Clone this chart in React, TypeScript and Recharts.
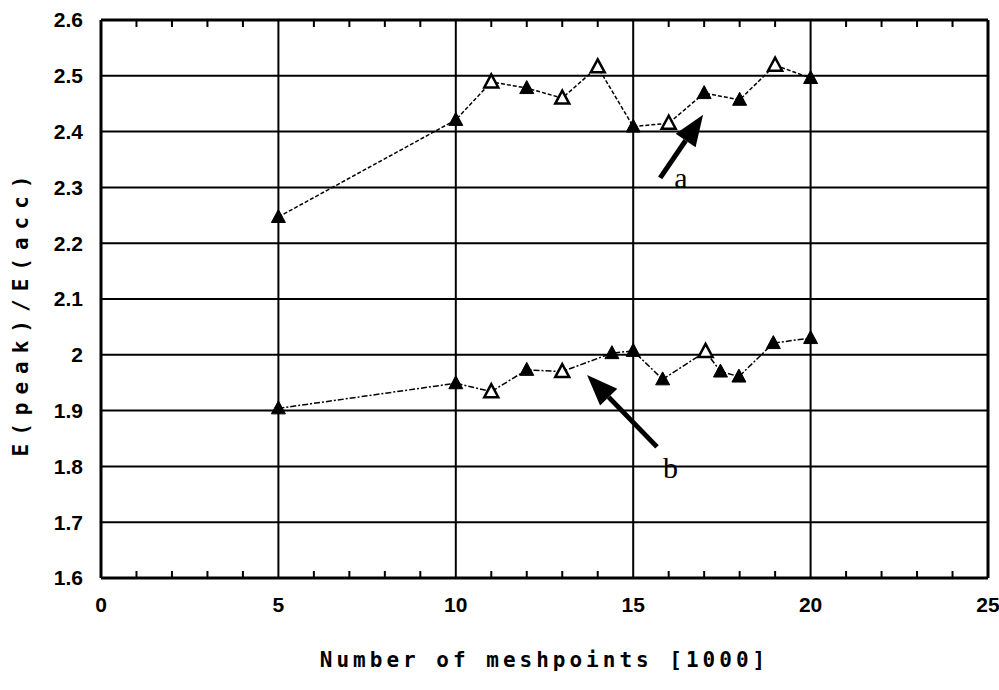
import { LineChart, Line, XAxis, YAxis, CartesianGrid, ReferenceLine } from 'recharts';

// curve a (upper) and curve b (lower)
const meshA = [5, 10, 11, 12, 13, 14, 15, 16, 17, 18, 19, 20];
const ratioA = [2.247, 2.421, 2.489, 2.478, 2.46, 2.516, 2.409, 2.415, 2.469, 2.457, 2.519, 2.496];
const meshB = [5, 10, 11, 12, 13, 14.4, 15, 15.83, 17.04, 17.46, 17.98, 18.95, 20];
const ratioB = [1.904, 1.949, 1.934, 1.973, 1.97, 2.003, 2.007, 1.956, 2.006, 1.97, 1.961, 2.021, 2.03];

// points drawn with an open triangle
const hollowA = [11, 13, 14, 16, 19];
const hollowB = [11, 13, 17.04];

const xTicks = [0, 5, 10, 15, 20, 25];
const xMinor = [1, 2, 3, 4, 6, 7, 8, 9, 11, 12, 13, 14, 16, 17, 18, 19, 21, 22, 23, 24];
const yTicks = [1.6, 1.7, 1.8, 1.9, 2.0, 2.1, 2.2, 2.3, 2.4, 2.5, 2.6];

// arrows: tail -> tip, in data units
const arrowA = [{ x: 15.76, y: 2.317 }, { x: 16.97, y: 2.43 }];
const arrowB = [{ x: 15.67, y: 1.835 }, { x: 13.7, y: 1.964 }];

const dataA = meshA.map((x, i) => ({ x, v: ratioA[i] }));
const dataB = meshB.map((x, i) => ({ x, v: ratioB[i] }));

const Tri = ({ cx, cy, hollow }: any) => {
  if (cx == null || cy == null) return null;
  const pts = `${cx},${cy - 7.5} ${cx - 7},${cy + 5.5} ${cx + 7},${cy + 5.5}`;
  return (
    <polygon
      points={pts}
      fill={hollow ? '#fff' : '#000'}
      stroke="#000"
      strokeWidth={hollow ? 2.5 : 1}
    />
  );
};

const Arrow = ({ x1, y1, x2, y2, text, tx, ty }: any) => {
  const ang = Math.atan2(y2 - y1, x2 - x1);
  const len = 31;
  const half = 12;
  const bx = x2 - len * Math.cos(ang);
  const by = y2 - len * Math.sin(ang);
  const nx = -Math.sin(ang);
  const ny = Math.cos(ang);
  const pts = `${x2},${y2} ${bx + half * nx},${by + half * ny} ${bx - half * nx},${by - half * ny}`;
  return (
    <g>
      <line x1={x1} y1={y1} x2={bx} y2={by} stroke="#000" strokeWidth={5} />
      <polygon points={pts} fill="#000" />
      <text x={x1 + tx} y={y1 + ty} fontFamily="Liberation Serif" fontSize={30} fill="#000">
        {text}
      </text>
    </g>
  );
};

// short inward stubs at top and bottom of the frame
const MinorTick = ({ x1, y1, y2 }: any) => {
  const top = Math.min(y1, y2);
  const bot = Math.max(y1, y2);
  return (
    <g>
      <line x1={x1} y1={top} x2={x1} y2={top + 7} stroke="#000" strokeWidth={2} />
      <line x1={x1} y1={bot} x2={x1} y2={bot - 7} stroke="#000" strokeWidth={2} />
    </g>
  );
};

const tickFont = { fill: '#000', fontSize: 21, fontFamily: 'Liberation Sans', fontWeight: 'bold' };

export default function App() {
  return (
    <div style={{ position: 'absolute', left: 0, top: 0, width: 999, height: 690, background: '#fff' }}>
      <LineChart width={999} height={690} margin={{ top: 20, right: 11, bottom: 0, left: 0 }}>
        <XAxis
          type="number"
          dataKey="x"
          domain={[0, 25]}
          ticks={xTicks}
          tickLine={false}
          axisLine={{ stroke: '#000', strokeWidth: 3 }}
          tick={tickFont}
          tickSize={6}
          tickMargin={13}
          height={112}
          allowDataOverflow
          label={{
            value: 'Number of meshpoints [1000]',
            position: 'insideBottom',
            offset: 23,
            fill: '#000',
            fontSize: 21,
            fontFamily: 'DejaVu Sans Mono',
            fontWeight: 'bold',
            letterSpacing: 4,
          }}
        />
        <YAxis
          type="number"
          domain={[1.6, 2.6]}
          ticks={yTicks}
          tickFormatter={(v: number) => String(+v.toFixed(1))}
          tickLine={false}
          axisLine={{ stroke: '#000', strokeWidth: 3 }}
          tick={tickFont}
          tickSize={6}
          tickMargin={12}
          width={101}
          allowDataOverflow
        />
        <CartesianGrid stroke="#000" strokeWidth={2} />
        <ReferenceLine x={25} stroke="#000" strokeWidth={3} />
        <ReferenceLine y={2.6} stroke="#000" strokeWidth={3} />
        {xMinor.map((m) => (
          <ReferenceLine key={m} x={m} shape={(p: any) => <MinorTick {...p} />} />
        ))}
        <Line
          data={dataA}
          dataKey="v"
          stroke="#000"
          strokeWidth={1.5}
          strokeDasharray="4 2"
          isAnimationActive={false}
          dot={(p: any) => <Tri key={`a${p.index}`} cx={p.cx} cy={p.cy} hollow={hollowA.includes(p.payload.x)} />}
        />
        <Line
          data={dataB}
          dataKey="v"
          stroke="#000"
          strokeWidth={1.5}
          strokeDasharray="6 2 2 2"
          isAnimationActive={false}
          dot={(p: any) => <Tri key={`b${p.index}`} cx={p.cx} cy={p.cy} hollow={hollowB.includes(p.payload.x)} />}
        />
        <ReferenceLine
          segment={arrowA}
          shape={(p: any) => <Arrow {...p} text="a" tx={14} ty={10} />}
        />
        <ReferenceLine
          segment={arrowB}
          shape={(p: any) => <Arrow {...p} text="b" tx={6} ty={31} />}
        />
        <text
          x={21}
          y={312}
          transform="rotate(-90 21 312)"
          textAnchor="middle"
          dominantBaseline="central"
          fontFamily="DejaVu Sans Mono"
          fontWeight="bold"
          fontSize={21}
          letterSpacing={8}
          fill="#000"
        >
          E(peak)/E(acc)
        </text>
      </LineChart>
    </div>
  );
}
